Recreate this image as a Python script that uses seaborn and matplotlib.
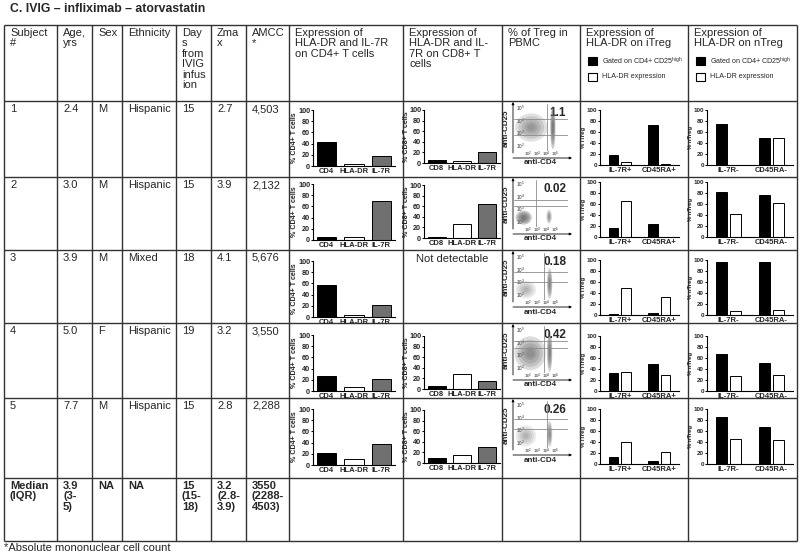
import matplotlib
matplotlib.use("Agg")
import matplotlib.pyplot as plt
import seaborn as sns
import pandas as pd
from matplotlib.patches import Rectangle, Ellipse

# ---------------- data ----------------
subjects = ["1", "2", "3", "4", "5"]
age = ["2.4", "3.0", "3.9", "5.0", "7.7"]
sex = ["M", "M", "M", "F", "M"]
ethnicity = ["Hispanic", "Hispanic", "Mixed", "Hispanic", "Hispanic"]
days = ["15", "15", "18", "19", "15"]
zmax = ["2.7", "3.9", "4.1", "3.2", "2.8"]
amcc = ["4,503", "2,132", "5,676", "3,550", "2,288"]
median_row = ["Median\n(IQR)", "3.9\n(3-\n5)", "NA", "NA", "15\n(15-\n18)", "3.2\n(2.8-\n3.9)", "3550\n(2288-\n4503)"]

cd4_cats = ["CD4", "HLA-DR", "IL-7R"]
cd4_vals = [[43, 4, 18], [6, 5, 70], [58, 3, 22], [26, 8, 22], [21, 10, 38]]
cd8_cats = ["CD8", "HLA-DR", "IL-7R"]
cd8_vals = [[5, 4, 21], [1, 26, 65], None, [5, 28, 16], [9, 16, 31]]
treg_pct = ["1.1", "0.02", "0.18", "0.42", "0.26"]
itreg_cats = ["IL-7R+", "CD45RA+"]
itreg_gated = [[19, 72], [16, 23], [1, 3], [32, 49], [13, 6]]
itreg_hladr = [[6, 2], [66, 0], [49, 33], [35, 30], [40, 21]]
ntreg_cats = ["IL-7R-", "CD45RA-"]
ntreg_gated = [[75, 49], [82, 76], [97, 96], [67, 51], [86, 68]]
ntreg_hladr = [[0, 49], [42, 61], [8, 9], [28, 30], [45, 43]]

# flow cytometry clouds (approximate): (cx, cy, w, h, density) in axis fractions
flow_clusters = [
    [(0.32, 0.5, 0.6, 0.6, 0.55), (0.72, 0.5, 0.1, 0.92, 0.95)],
    [(0.18, 0.2, 0.3, 0.3, 0.95), (0.65, 0.22, 0.1, 0.3, 0.6)],
    [(0.22, 0.22, 0.38, 0.38, 0.35), (0.66, 0.35, 0.1, 0.65, 0.8)],
    [(0.3, 0.42, 0.58, 0.72, 0.65), (0.66, 0.45, 0.1, 0.85, 0.85)],
    [(0.22, 0.26, 0.38, 0.45, 0.35), (0.66, 0.3, 0.1, 0.55, 0.7)],
]
flow_gates_v = [0.62, 0.40, 0.55, 0.55, 0.62]
flow_gates_h = [(0.68, 0.34), (0.58, 0.44), (0.60, 0.38), (0.69, 0.53), (0.62, 0.40)]

headers = ["Subject\n#", "Age,\nyrs", "Sex", "Ethnicity", "Day\ns\nfrom\nIVIG\ninfus\nion", "Zma\nx", "AMCC\n*",
           "Expression of\nHLA-DR and IL-7R\non CD4+ T cells",
           "Expression of\nHLA-DR and IL-\n7R on CD8+ T\ncells",
           "% of Treg in\nPBMC",
           "Expression of\nHLA-DR on iTreg",
           "Expression of\nHLA-DR on nTreg"]

# ---------------- layout ----------------
sns.set_theme(style="ticks")
plt.rcParams['font.family'] = ['Liberation Sans', 'DejaVu Sans']
plt.rcParams['mathtext.fontset'] = 'custom'
plt.rcParams['mathtext.rm'] = 'Liberation Sans'
plt.rcParams['mathtext.it'] = 'Liberation Sans'
plt.rcParams['mathtext.bf'] = 'Liberation Sans:bold'

W, H = 800, 555
fig = plt.figure(figsize=(8, 5.55), dpi=100)
fig.patch.set_facecolor("white")
bg = fig.add_axes([0, 0, 1, 1])
bg.set_xlim(0, W)
bg.set_ylim(H, 0)
bg.axis('off')

cols = [4, 57, 92, 122, 176, 211, 246, 289, 403, 502, 580, 688, 797]
rows = [25, 101, 177, 250, 323, 398, 478, 541]
LC = "#333333"
for x in cols:
    bg.plot([x, x], [rows[0], rows[-1]], color=LC, lw=1.0, solid_capstyle='butt')
for y in rows:
    bg.plot([cols[0], cols[-1]], [y, y], color=LC, lw=1.0, solid_capstyle='butt')

bg.text(10, 9, "C. IVIG \u2013 infliximab \u2013 atorvastatin", fontsize=8.8, fontweight='bold', va='center', ha='left')
bg.text(4, 548, "*Absolute mononuclear cell count", fontsize=8, va='center', ha='left')

FS = 8
for j, h in enumerate(headers):
    bg.text(cols[j] + 6, rows[0] + 3, h, fontsize=FS, va='top', ha='left', linespacing=1.05)

# header legends
for lx in (588, 696):
    bg.add_patch(Rectangle((lx, 57), 9, 8, facecolor='black', edgecolor='black', lw=0.8))
    bg.add_patch(Rectangle((lx, 73), 9, 8, facecolor='white', edgecolor='black', lw=0.8))
    bg.text(lx + 14, 61, "Gated on CD4+ CD25$^{\\mathrm{high}}$", fontsize=5.1, va='center', ha='left')
    bg.text(lx + 14, 77, "HLA-DR expression", fontsize=5.1, va='center', ha='left')

table_cols = [subjects, age, sex, ethnicity, days, zmax, amcc]
for i in range(5):
    rt = rows[i + 1]
    for j, colvals in enumerate(table_cols):
        bg.text(cols[j] + 6, rt + 3, colvals[i], fontsize=FS, va='top', ha='left')
for j, t in enumerate(median_row):
    bg.text(cols[j] + 6, rows[6] + 3, t, fontsize=FS, fontweight='bold', va='top', ha='left', linespacing=1.05)


def px_axes(x0, y0, x1, y1):
    return fig.add_axes([x0 / W, 1 - y1 / H, (x1 - x0) / W, (y1 - y0) / H])


def style(ax, ylabel, label_x, axis_x, width_px, tsize, lsize):
    ax.set_ylim(0, 100)
    ax.set_yticks(range(0, 101, 20))
    ax.set_xlabel("")
    ax.set_ylabel("")
    ax.text((label_x - axis_x) / width_px, 0.5, ylabel, transform=ax.transAxes, rotation=90,
            fontsize=lsize, fontweight='bold', ha='center', va='center')
    ax.tick_params(axis='y', labelsize=tsize, length=1.5, width=0.7, pad=0.5, color='black')
    ax.tick_params(axis='x', labelsize=5.5, length=0, pad=1.5)
    for lbl in ax.get_xticklabels() + ax.get_yticklabels():
        lbl.set_fontweight('bold')
    for s in ("top", "right"):
        ax.spines[s].set_visible(False)
    for s in ("left", "bottom"):
        ax.spines[s].set_color('black')
        ax.spines[s].set_linewidth(0.8)
    ax.patch.set_alpha(0)


cd4_bottom = [166, 240, 317, 391, 465]
cd8_bottom = [163, 238, None, 389, 463]
tr_bottom = [165, 237, 315, 391, 464]

for i in range(5):
    rt = rows[i + 1]
    # CD4 panel
    ax = px_axes(313, cd4_bottom[i] - 56, 395, cd4_bottom[i])
    sns.barplot(x=cd4_cats, y=cd4_vals[i], hue=cd4_cats, palette=['black', 'white', '#707070'],
                saturation=1, width=0.7, edgecolor='black', linewidth=0.7, legend=False, ax=ax)
    style(ax, "% CD4+ T cells", 294, 313, 82, 5.2, 5.1)

    # CD8 panel
    if cd8_vals[i] is None:
        bg.text(452, rt + 9, "Not detectable", fontsize=8, ha='center', va='center')
    else:
        ax = px_axes(424, cd8_bottom[i] - 53, 500, cd8_bottom[i])
        sns.barplot(x=cd8_cats, y=cd8_vals[i], hue=cd8_cats, palette=['black', 'white', '#707070'],
                    saturation=1, width=0.7, edgecolor='black', linewidth=0.7, legend=False, ax=ax)
        style(ax, "% CD8+ T cells", 406, 424, 76, 5.2, 5.1)

    # flow plot
    fx0, fx1, fy0, fy1 = 514, 568, rt + 3, rt + 50
    fa = px_axes(fx0, fy0, fx1, fy1)
    fa.set_xlim(0, 1)
    fa.set_ylim(0, 1)
    fa.axis('off')
    for (cx, cy, w, h, d) in flow_clusters[i]:
        for s in (1.0, 0.8, 0.6, 0.4, 0.25):
            fa.add_patch(Ellipse((cx, cy), w * s, h * s, facecolor='0.4', alpha=min(1, d * 0.35), lw=0))
    fa.axvline(flow_gates_v[i], color='0.55', lw=0.6)
    for hy in flow_gates_h[i]:
        fa.axhline(hy, color='0.55', lw=0.6)
    for k, fy in enumerate([0.9, 0.63, 0.37, 0.1]):
        bg.text(515.5, fy1 - fy * (fy1 - fy0), "$10^%d$" % (5 - k), fontsize=3.3, ha='left', va='center')
    for k, fxp in enumerate([528, 537, 546, 555]):
        bg.text(fxp, rt + 53, "$10^%d$" % (k + 2), fontsize=3.2, ha='center', va='center')
    bg.annotate('', xy=(513, rt + 1), xytext=(513, rt + 52),
                arrowprops=dict(arrowstyle='-|>', lw=0.6, color='black', mutation_scale=3.5, shrinkA=0, shrinkB=0))
    bg.annotate('', xy=(572, rt + 57), xytext=(513, rt + 57),
                arrowprops=dict(arrowstyle='-|>', lw=0.6, color='black', mutation_scale=3.5, shrinkA=0, shrinkB=0))
    bg.text(540, rt + 62, "anti-CD4", fontsize=5.8, fontweight='bold', ha='center', va='center')
    bg.text(506, rt + 27, "anti-CD25", fontsize=5.8, fontweight='bold', ha='center', va='center', rotation=90)
    bg.text(566, rt + 12, treg_pct[i], fontsize=8.5, fontweight='bold', ha='right', va='center')

    # iTreg
    df = pd.DataFrame({'cat': itreg_cats * 2, 'series': ['g', 'g', 'h', 'h'],
                       'val': itreg_gated[i] + itreg_hladr[i]})
    ax = px_axes(600, tr_bottom[i] - 55, 679, tr_bottom[i])
    sns.barplot(data=df, x='cat', y='val', hue='series', hue_order=['g', 'h'],
                palette={'g': 'black', 'h': 'white'}, saturation=1, width=0.65, gap=0.25,
                edgecolor='black', linewidth=0.7, legend=False, ax=ax)
    style(ax, "% iTreg", 583.5, 600, 79, 4.5, 4.3)

    # nTreg
    df = pd.DataFrame({'cat': ntreg_cats * 2, 'series': ['g', 'g', 'h', 'h'],
                       'val': ntreg_gated[i] + ntreg_hladr[i]})
    ax = px_axes(707, tr_bottom[i] - 55, 793, tr_bottom[i])
    sns.barplot(data=df, x='cat', y='val', hue='series', hue_order=['g', 'h'],
                palette={'g': 'black', 'h': 'white'}, saturation=1, width=0.65, gap=0.25,
                edgecolor='black', linewidth=0.7, legend=False, ax=ax)
    style(ax, "% nTreg", 690.8, 707, 86, 4.5, 4.3)

fig.savefig("out.png", dpi=100, facecolor='white')
